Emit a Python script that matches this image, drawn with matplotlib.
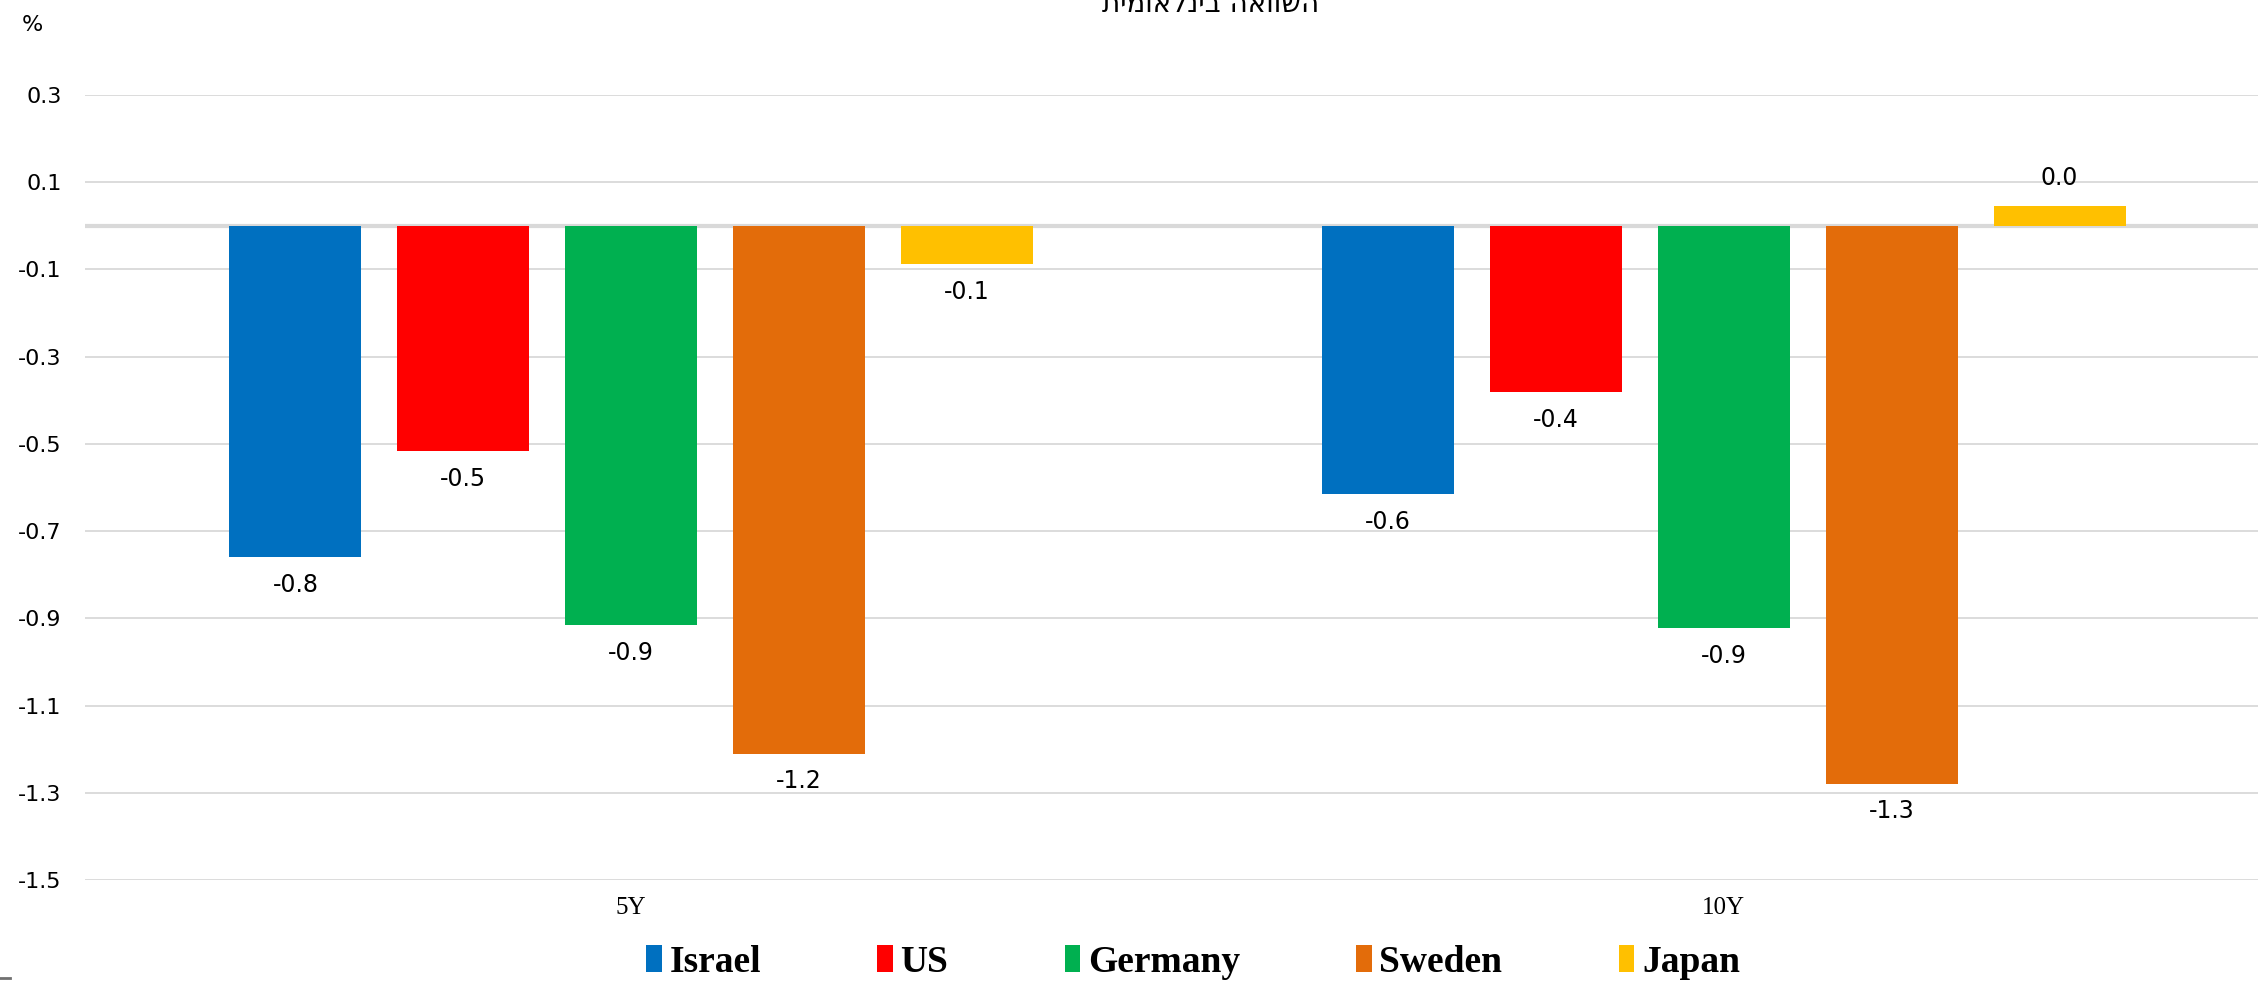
import matplotlib
matplotlib.use("Agg")
import matplotlib.pyplot as plt
from matplotlib.lines import Line2D
import numpy as np

categories = ["5Y", "10Y"]
series = ["Israel", "US", "Germany", "Sweden", "Japan"]
israel = [-0.76, -0.616]
us = [-0.517, -0.381]
germany = [-0.916, -0.923]
sweden = [-1.21, -1.279]
japan = [-0.087, 0.045]
values = [israel, us, germany, sweden, japan]
colors = ["#0070C0", "#FF0000", "#00B050", "#E36C0A", "#FFC000"]
yticks = [0.3, 0.1, -0.1, -0.3, -0.5, -0.7, -0.9, -1.1, -1.3, -1.5]
title = "השוואה בינלאומית"

W, H = 2258, 983
fig = plt.figure(figsize=(W / 100, H / 100), dpi=100)
ax = fig.add_axes([85 / W, 1 - 880 / H, (W - 85) / W, (880 - 95) / H])

x = np.arange(len(categories))
step = 168 / 1093
width = 132 / 1093
for i, (name, vals, c) in enumerate(zip(series, values, colors)):
    pos = x + (i - 2) * step
    bars = ax.bar(pos, vals, width=width, color=c, label=name, zorder=3)
    for b, v in zip(bars, vals):
        xc = b.get_x() + b.get_width() / 2
        off = -20 if v < 0 else 20
        ax.annotate(f"{v:.1f}", (xc, v), xytext=(0, off), textcoords="offset points",
                    ha="center", va="center", fontsize=17, family="DejaVu Sans",
                    annotation_clip=False)

ax.set_xlim(-0.5, 1.489)
ax.set_ylim(-1.5, 0.3)
ax.set_yticks(yticks)
ax.set_yticklabels([f"{t:.1f}" for t in yticks], fontsize=16, family="DejaVu Sans")
ax.set_xticks(x)
ax.set_xticklabels(categories, fontsize=18, family="Liberation Serif")
ax.tick_params(axis="both", length=0)
ax.tick_params(axis="y", pad=17)
ax.tick_params(axis="x", pad=12)
ax.yaxis.grid(True, color="#d9d9d9", linewidth=1.3, zorder=0)
ax.axhline(0, color="#d9d9d9", linewidth=3, zorder=2)
for s in ax.spines.values():
    s.set_visible(False)

fig.text(32 / W, 1 - 25 / H, "%", ha="center", va="center", fontsize=16, family="DejaVu Sans")
fig.text(1211 / W, 1 - 12 / H, title[::-1], ha="center", va="baseline", fontsize=20,
         family="DejaVu Sans")

leg = fig.legend(loc="center", bbox_to_anchor=(1193 / W, 1 - 962 / H), ncol=5, frameon=False,
                 prop={"family": "Liberation Serif", "weight": "bold", "size": 27},
                 handlelength=0.42, handleheight=0.7, handletextpad=0.2, columnspacing=3.1)

fig.add_artist(Line2D([0, 10 / W], [1 - 978 / H, 1 - 978 / H], color="#707070", linewidth=2,
                      transform=fig.transFigure))

fig.savefig("out.png", dpi=100)
